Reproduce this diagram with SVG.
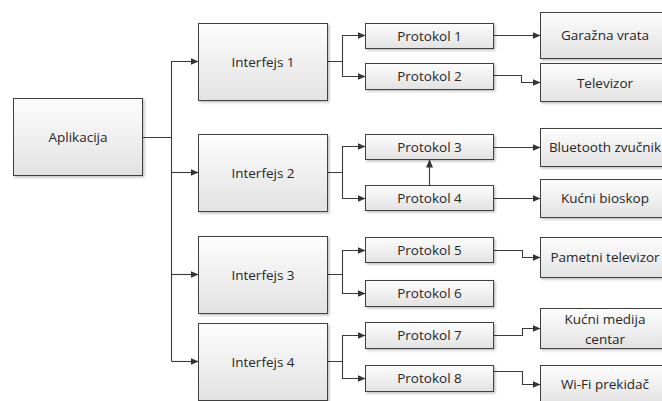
<svg xmlns="http://www.w3.org/2000/svg" width="662" height="401" viewBox="0 0 662 401">
  <style>
    .box { fill: url(#boxFill); stroke: #3f3f3f; stroke-width: 1; filter: url(#shadow); }
    .lbl { font-family: "Open Sans", "Noto Sans", "DejaVu Sans", sans-serif; font-size: 13.5px; fill: #262626; text-anchor: middle; dominant-baseline: central; }
    .wire { fill: none; stroke: #3a3a3a; stroke-width: 1.1; }
    .arrow { marker-end: url(#head); }
  </style>
  <defs>
    <linearGradient id="boxFill" x1="0" y1="0" x2="0" y2="1">
      <stop offset="0" stop-color="#fdfdfd"/>
      <stop offset="1" stop-color="#e2e2e2"/>
    </linearGradient>
    <filter id="shadow" x="-10%" y="-10%" width="125%" height="130%">
      <feDropShadow dx="1.5" dy="1.5" stdDeviation="1.2" flood-color="#000" flood-opacity="0.25"/>
    </filter>
    <marker id="head" markerUnits="userSpaceOnUse" markerWidth="9" markerHeight="8" refX="8" refY="3.5" orient="auto">
      <path d="M0,0 L8,3.5 L0,7 z" fill="#333"/>
    </marker>
  </defs>

  <!-- connectors -->
  <g id="connectors">
    <path class="wire" d="M142.5,137.5 H171.5 V361.5"/>
    <path class="wire" d="M142.5,137.5 H171.5 V61.5 H198.5" marker-end="url(#head)"/>
    <path class="wire" d="M171.5,172.5 H198.5" marker-end="url(#head)"/>
    <path class="wire" d="M171.5,274.5 H198.5" marker-end="url(#head)"/>
    <path class="wire" d="M171.5,361.5 H198.5" marker-end="url(#head)"/>

    <path class="wire" d="M327.5,61.5 H342.5 V35.5 H365.5" marker-end="url(#head)"/>
    <path class="wire" d="M342.5,61.5 V76.5 H365.5" marker-end="url(#head)"/>
    <path class="wire" d="M327.5,172.5 H342.5 V146.5 H365.5" marker-end="url(#head)"/>
    <path class="wire" d="M342.5,172.5 V198.5 H365.5" marker-end="url(#head)"/>
    <path class="wire" d="M327.5,274.5 H342.5 V250.5 H365.5" marker-end="url(#head)"/>
    <path class="wire" d="M342.5,274.5 V293.5 H365.5" marker-end="url(#head)"/>
    <path class="wire" d="M327.5,361.5 H342.5 V335.5 H365.5" marker-end="url(#head)"/>
    <path class="wire" d="M342.5,361.5 V378.5 H365.5" marker-end="url(#head)"/>

    <path class="wire" d="M493.5,35.5 H540.5" marker-end="url(#head)"/>
    <path class="wire" d="M493.5,75.5 H521.5 V82.5 H540.5" marker-end="url(#head)"/>
    <path class="wire" d="M493.5,147.5 H540.5" marker-end="url(#head)"/>
    <path class="wire" d="M493.5,198.5 H540.5" marker-end="url(#head)"/>
    <path class="wire" d="M493.5,250.5 H522.5 V257.5 H540.5" marker-end="url(#head)"/>
    <path class="wire" d="M493.5,335.5 H522.5 V328.5 H540.5" marker-end="url(#head)"/>
    <path class="wire" d="M493.5,371.5 H522.5 V384.5 H540.5" marker-end="url(#head)"/>
    <path class="wire" d="M429.5,185.5 V159.5" marker-end="url(#head)"/>
  </g>

  <!-- application -->
  <g id="aplikacija"><rect class="box" x="13.5" y="98.5" width="129" height="77"/><text class="lbl" x="78" y="137">Aplikacija</text></g>

  <!-- interfaces -->
  <g id="interfejs1"><rect class="box" x="198.5" y="23.5" width="129" height="77"/><text class="lbl" x="263" y="62">Interfejs 1</text></g>
  <g id="interfejs2"><rect class="box" x="198.5" y="134.5" width="129" height="77"/><text class="lbl" x="263" y="173">Interfejs 2</text></g>
  <g id="interfejs3"><rect class="box" x="198.5" y="236.5" width="129" height="77"/><text class="lbl" x="263" y="275">Interfejs 3</text></g>
  <g id="interfejs4"><rect class="box" x="198.5" y="323.5" width="129" height="77"/><text class="lbl" x="263" y="362">Interfejs 4</text></g>

  <!-- protocols -->
  <g id="protokol1"><rect class="box" x="365.5" y="23.5" width="128" height="25"/><text class="lbl" x="429.5" y="35.5">Protokol 1</text></g>
  <g id="protokol2"><rect class="box" x="365.5" y="63.5" width="128" height="26"/><text class="lbl" x="429.5" y="76">Protokol 2</text></g>
  <g id="protokol3"><rect class="box" x="365.5" y="134.5" width="128" height="25"/><text class="lbl" x="429.5" y="146.5">Protokol 3</text></g>
  <g id="protokol4"><rect class="box" x="365.5" y="185.5" width="128" height="25"/><text class="lbl" x="429.5" y="197.5">Protokol 4</text></g>
  <g id="protokol5"><rect class="box" x="365.5" y="237.5" width="128" height="25"/><text class="lbl" x="429.5" y="249.5">Protokol 5</text></g>
  <g id="protokol6"><rect class="box" x="365.5" y="280.5" width="128" height="26"/><text class="lbl" x="429.5" y="293">Protokol 6</text></g>
  <g id="protokol7"><rect class="box" x="365.5" y="322.5" width="128" height="26"/><text class="lbl" x="429.5" y="335">Protokol 7</text></g>
  <g id="protokol8"><rect class="box" x="365.5" y="365.5" width="128" height="26"/><text class="lbl" x="429.5" y="378">Protokol 8</text></g>

  <!-- devices -->
  <g id="garazna-vrata"><rect class="box" x="540.5" y="12.5" width="129" height="46"/><text class="lbl" x="605" y="35">Garažna vrata</text></g>
  <g id="televizor"><rect class="box" x="540.5" y="63.5" width="129" height="38"/><text class="lbl" x="605" y="82.5">Televizor</text></g>
  <g id="bluetooth-zvucnik"><rect class="box" x="540.5" y="128.5" width="129" height="38"/><text class="lbl" x="605" y="147">Bluetooth zvučnik</text></g>
  <g id="kucni-bioskop"><rect class="box" x="540.5" y="179.5" width="129" height="38"/><text class="lbl" x="605" y="198">Kućni bioskop</text></g>
  <g id="pametni-televizor"><rect class="box" x="540.5" y="237.5" width="129" height="40"/><text class="lbl" x="605" y="257">Pametni televizor</text></g>
  <g id="kucni-medija-centar"><rect class="box" x="540.5" y="308.5" width="129" height="40"/><text class="lbl" x="605" y="319">Kućni medija</text><text class="lbl" x="605" y="338.5">centar</text></g>
  <g id="wifi-prekidac"><rect class="box" x="540.5" y="365.5" width="129" height="38"/><text class="lbl" x="605" y="384">Wi-Fi prekidač</text></g>
</svg>
